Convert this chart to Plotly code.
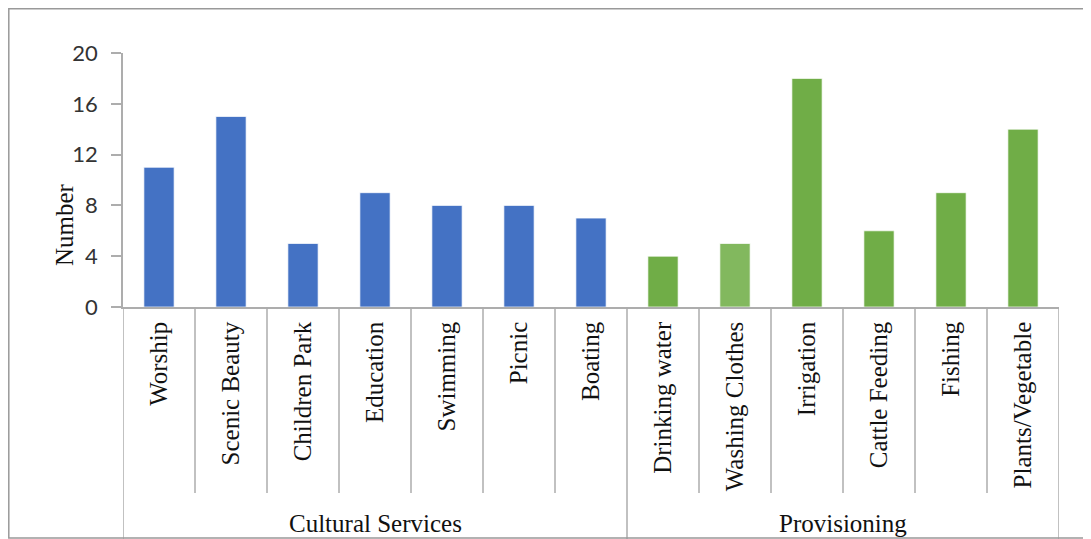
import plotly.graph_objects as go

groups = ["Cultural Services"] * 7 + ["Provisioning"] * 6
categories = ["Worship", "Scenic Beauty", "Children Park", "Education", "Swimming", "Picnic", "Boating",
              "Drinking water", "Washing Clothes", "Irrigation", "Cattle Feeding", "Fishing", "Plants/Vegetable"]
values = [11, 15, 5, 9, 8, 8, 7, 4, 5, 18, 6, 9, 14]
bar_colors = ["#4472C4"] * 7 + ["#70AD47", "#82B85E", "#70AD47", "#70AD47", "#70AD47", "#70AD47"]
y_ticks = [0, 4, 8, 12, 16, 20]
y_title = "Number"

# page body has an 8px margin; work in window pixel coordinates
OFF = 8
WIN_W, WIN_H = 1091, 539
W, H = WIN_W - OFF, WIN_H - OFF
plot_left, plot_right, plot_top, plot_bottom = 123, 1059, 53, 307
L = plot_left - OFF
T = plot_top - OFF
R = WIN_W - plot_right
B = WIN_H - plot_bottom
pw, ph = plot_right - plot_left, plot_bottom - plot_top

def py(pix):
    return (plot_bottom - pix) / ph

def px(pix):
    return (pix - plot_left) / pw

fig = go.Figure()
fig.add_trace(go.Bar(
    x=categories, y=values,
    marker=dict(color=bar_colors, line=dict(color="rgba(255,255,255,0.7)", width=1)),
    showlegend=False,
))

axis_gray = "#ADADAD"
shapes = []
n = len(categories)
group_bounds = [0] + [i for i in range(1, n) if groups[i] != groups[i - 1]] + [n]
for i in range(1, n):
    if i in group_bounds:
        continue
    shapes.append(dict(type="line", xref="x", yref="paper", x0=i - 0.5, x1=i - 0.5,
                       y0=0, y1=py(493), line=dict(color=axis_gray, width=1.5)))
for b in group_bounds:
    shapes.append(dict(type="line", xref="x", yref="paper", x0=b - 0.5, x1=b - 0.5,
                       y0=0, y1=py(545), line=dict(color=axis_gray, width=1.5)))
shapes.append(dict(type="rect", xref="paper", yref="paper", x0=px(8.8), x1=px(1100),
                   y0=py(538), y1=py(8.8), line=dict(color="#999999", width=1.5),
                   fillcolor="rgba(0,0,0,0)"))

annotations = []
for a, b in zip(group_bounds[:-1], group_bounds[1:]):
    annotations.append(dict(text=groups[a], xref="x", yref="paper", x=(a + b - 1) / 2, y=py(523),
                            showarrow=False, xanchor="center", yanchor="middle",
                            font=dict(family="Liberation Serif", size=25, color="#111111")))
annotations.append(dict(text=y_title, xref="paper", yref="paper", x=px(64), y=py(225),
                        textangle=-90, showarrow=False, xanchor="center", yanchor="middle",
                        font=dict(family="Liberation Serif", size=25, color="#111111")))

fig.update_layout(
    width=W, height=H,
    margin=dict(l=L, r=R, t=T, b=B),
    paper_bgcolor="white", plot_bgcolor="white",
    bargap=0.58,
    shapes=shapes, annotations=annotations,
    xaxis=dict(type="category", range=[-0.5, n - 0.5], tickangle=-90, ticks="",
               showline=True, linecolor=axis_gray, linewidth=1.5, showgrid=False,
               tickfont=dict(family="Liberation Serif", size=25, color="#111111"),
               ticklabelstandoff=3),
    yaxis=dict(range=[0, 20], tickvals=y_ticks, ticks="outside", ticklen=10, tickcolor=axis_gray,
               tickwidth=1.5, showline=True, linecolor=axis_gray, linewidth=1.5, showgrid=False,
               zeroline=False, ticklabelstandoff=9,
               tickfont=dict(family="Lato", size=22, color="#333333")),
)

fig.write_html("out.html")
